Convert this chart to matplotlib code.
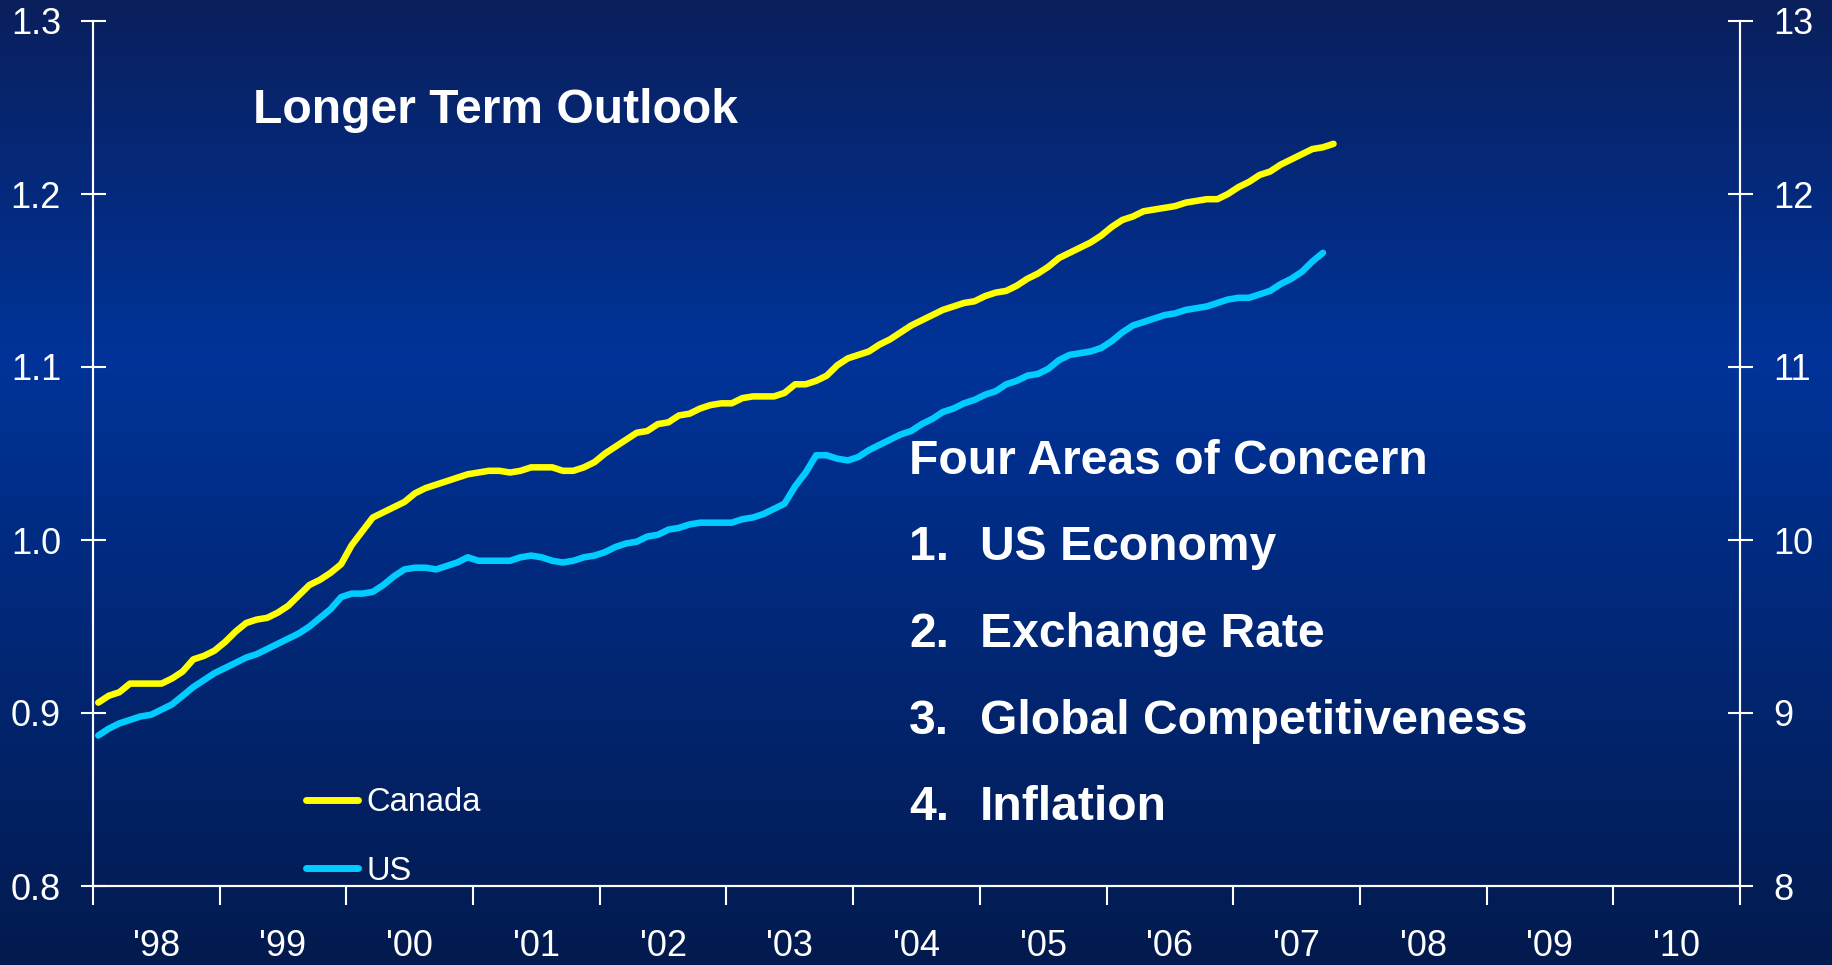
import numpy as np
import matplotlib
matplotlib.use("Agg")
import matplotlib.pyplot as plt
from matplotlib.colors import LinearSegmentedColormap
from matplotlib.ticker import FixedLocator, FixedFormatter

plt.rcParams['font.family'] = ['Liberation Sans', 'DejaVu Sans']

# monthly values, Jan 1998 onwards
canada = [
    0.906, 0.910, 0.912, 0.917, 0.917, 0.917, 0.917, 0.920, 0.924, 0.931, 0.933, 0.936,  # 1998
    0.941, 0.947, 0.952, 0.954, 0.955, 0.958, 0.962, 0.968, 0.974, 0.977, 0.981, 0.986,  # 1999
    0.997, 1.005, 1.013, 1.016, 1.019, 1.022, 1.027, 1.030, 1.032, 1.034, 1.036, 1.038,  # 2000
    1.039, 1.040, 1.040, 1.039, 1.040, 1.042, 1.042, 1.042, 1.040, 1.040, 1.042, 1.045,  # 2001
    1.050, 1.054, 1.058, 1.062, 1.063, 1.067, 1.068, 1.072, 1.073, 1.076, 1.078, 1.079,  # 2002
    1.079, 1.082, 1.083, 1.083, 1.083, 1.085, 1.090, 1.090, 1.092, 1.095, 1.101, 1.105,  # 2003
    1.107, 1.109, 1.113, 1.116, 1.120, 1.124, 1.127, 1.130, 1.133, 1.135, 1.137, 1.138,  # 2004
    1.141, 1.143, 1.144, 1.147, 1.151, 1.154, 1.158, 1.163, 1.166, 1.169, 1.172, 1.176,  # 2005
    1.181, 1.185, 1.187, 1.190, 1.191, 1.192, 1.193, 1.195, 1.196, 1.197, 1.197, 1.200,  # 2006
    1.204, 1.207, 1.211, 1.213, 1.217, 1.220, 1.223, 1.226, 1.227, 1.229,                # 2007
]
us = [
    8.87, 8.91, 8.94, 8.96, 8.98, 8.99, 9.02, 9.05, 9.10, 9.15, 9.19, 9.23,
    9.26, 9.29, 9.32, 9.34, 9.37, 9.40, 9.43, 9.46, 9.50, 9.55, 9.60, 9.67,
    9.69, 9.69, 9.70, 9.74, 9.79, 9.83, 9.84, 9.84, 9.83, 9.85, 9.87, 9.90,
    9.88, 9.88, 9.88, 9.88, 9.90, 9.91, 9.90, 9.88, 9.87, 9.88, 9.90, 9.91,
    9.93, 9.96, 9.98, 9.99, 10.02, 10.03, 10.06, 10.07, 10.09, 10.10, 10.10, 10.10,
    10.10, 10.12, 10.13, 10.15, 10.18, 10.21, 10.31, 10.39, 10.49, 10.49, 10.47, 10.46,
    10.48, 10.52, 10.55, 10.58, 10.61, 10.63, 10.67, 10.70, 10.74, 10.76, 10.79, 10.81,
    10.84, 10.86, 10.90, 10.92, 10.95, 10.96, 10.99, 11.04, 11.07, 11.08, 11.09, 11.11,
    11.15, 11.20, 11.24, 11.26, 11.28, 11.30, 11.31, 11.33, 11.34, 11.35, 11.37, 11.39,
    11.40, 11.40, 11.42, 11.44, 11.48, 11.51, 11.55, 11.61, 11.66,
]
start_year = 1998
years = list(range(1998, 2011))
year_labels = ["'98", "'99", "'00", "'01", "'02", "'03", "'04", "'05", "'06", "'07", "'08", "'09", "'10"]
left_ticks = [0.8, 0.9, 1.0, 1.1, 1.2, 1.3]
right_ticks = [8, 9, 10, 11, 12, 13]

title = "Longer Term Outlook"
heading = "Four Areas of Concern"
concerns = ["US Economy", "Exchange Rate", "Global Competitiveness", "Inflation"]

# mid-month positions in decimal years
x_ca = start_year + (np.arange(len(canada)) + 0.5) / 12
x_us = start_year + (np.arange(len(us)) + 0.5) / 12

W, H = 1832, 965
fig = plt.figure(figsize=(W / 100, H / 100), dpi=100)

# background gradient
bg = fig.add_axes([0, 0, 1, 1])
cmap = LinearSegmentedColormap.from_list("bg", [(0.0, "#0a1f5c"), (0.37, "#003399"), (1.0, "#031a4e")])
bg.imshow(np.linspace(0, 1, 256).reshape(-1, 1), aspect="auto", cmap=cmap, extent=[0, 1, 0, 1])
bg.set_axis_off()

L, R, B, T = 93, 1740, 886, 21
ax = fig.add_axes([L / W, 1 - B / H, (R - L) / W, (B - T) / H])
ax.patch.set_visible(False)
ax2 = ax.twinx()

yellow = "#ffff00"
cyan = "#00ccff"
ax.plot(x_ca, canada, color=yellow, lw=4.7, solid_capstyle="round", label="Canada")
ax2.plot(x_us, us, color=cyan, lw=4.7, solid_capstyle="round", label="US")

ax.set_xlim(1998, 2011)
ax.set_ylim(0.8, 1.3)
ax2.set_ylim(8, 13)

for a in (ax, ax2):
    for s in a.spines.values():
        s.set_color("white")
        s.set_linewidth(1.5)
    a.spines["top"].set_visible(False)

ax.set_yticks(left_ticks)
ax.set_yticklabels(["%.1f" % v for v in left_ticks])
ax.tick_params(axis="y", direction="inout", length=18, width=1.5, colors="white",
               labelsize=26, pad=14)
ax2.set_yticks(right_ticks)
ax2.set_yticklabels([str(v) for v in right_ticks])
ax2.tick_params(axis="y", direction="inout", length=18, width=1.5, colors="white",
                labelsize=26, pad=15)

ax.xaxis.set_major_locator(FixedLocator(years + [2011]))
ax.xaxis.set_major_formatter(FixedFormatter([""] * (len(years) + 1)))
ax.xaxis.set_minor_locator(FixedLocator([y + 0.5 for y in years]))
ax.xaxis.set_minor_formatter(FixedFormatter(year_labels))
ax.tick_params(axis="x", which="major", direction="out", length=14, width=1.5, colors="white")
ax.tick_params(axis="x", which="minor", length=0, colors="white", labelsize=26, pad=31)

# legend
h1, l1 = ax.get_legend_handles_labels()
h2, l2 = ax2.get_legend_handles_labels()
leg = ax2.legend(h1 + h2, l1 + l2, loc="upper left", frameon=False,
                 bbox_to_anchor=(306 / W, 1 - 787 / H), bbox_transform=fig.transFigure,
                 borderpad=0, borderaxespad=0, handlelength=1.6, handletextpad=0.25,
                 labelspacing=1.16, fontsize=23.5)
for t in leg.get_texts():
    t.set_color("white")
for ln in leg.get_lines():
    ln.set_linewidth(5)

# texts
fs = 34.6
fig.text(253 / W, 1 - 123 / H, title, color="white", fontsize=fs, fontweight="bold", va="baseline")
fig.text(909 / W, 1 - 474 / H, heading, color="white", fontsize=fs, fontweight="bold", va="baseline")
for i, c in enumerate(concerns):
    yb = 1 - (560.5 + i * 86.5) / H
    fig.text(909 / W, yb, "%d." % (i + 1), color="white", fontsize=fs, fontweight="bold", va="baseline")
    fig.text(980 / W, yb, c, color="white", fontsize=fs, fontweight="bold", va="baseline")

fig.savefig("out.png", dpi=100)
